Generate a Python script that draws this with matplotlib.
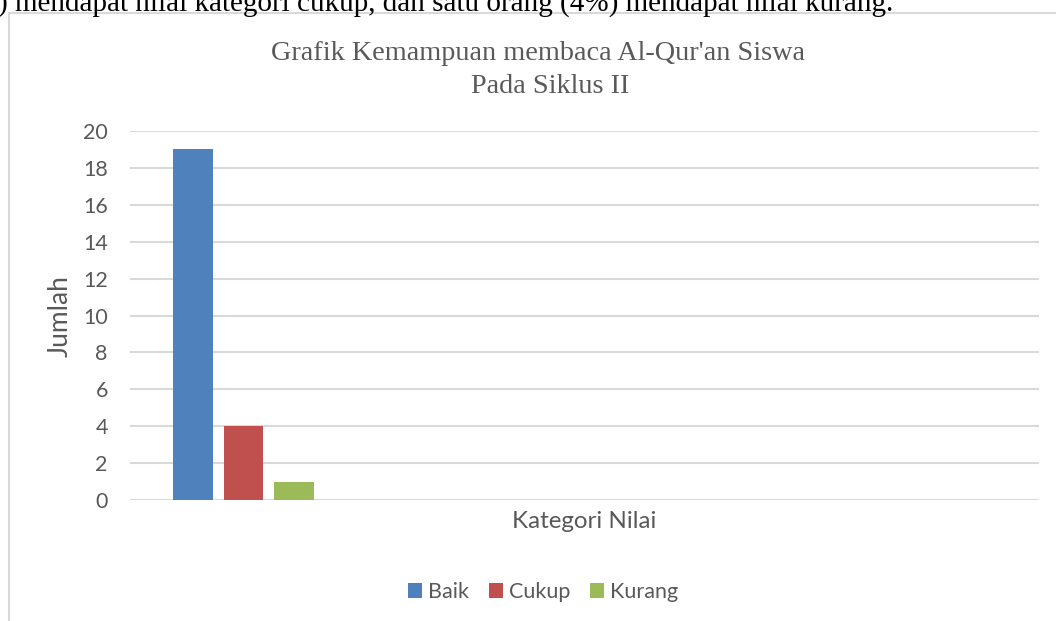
import matplotlib.pyplot as plt
from matplotlib.patches import Rectangle
import numpy as np

# data
kategori = ["Baik", "Cukup", "Kurang"]
jumlah = [19, 4, 1]
warna = ["#4F81BD", "#C0504D", "#9BBB59"]
yticks = [0, 2, 4, 6, 8, 10, 12, 14, 16, 18, 20]

teks_atas = ") mendapat nilai kategori cukup, dan satu orang (4%) mendapat nilai kurang."
judul1 = "Grafik Kemampuan membaca Al-Qur'an Siswa"
judul2 = "Pada Siklus II"

W, H = 1056, 621
fig = plt.figure(figsize=(W / 100, H / 100), dpi=100)
abu = "#595959"
sans = ["Lato", "DejaVu Sans"]

# chart area border (cropped screenshot)
fig.patches.append(Rectangle((9 / W, -0.1), 1.2, 1 - 13 / H + 0.1, transform=fig.transFigure,
                             fill=False, edgecolor="#d9d9d9", linewidth=1.5))

# surrounding document text, clipped at top
fig.text(-2 / W, 1 - 11 / H, teks_atas, family="Liberation Serif", fontsize=21,
         color="black", ha="left", va="baseline")

ax = fig.add_axes([130 / W, 1 - 500 / H, (1039 - 130) / W, (500 - 131) / H])
x = np.arange(len(kategori))
bars = ax.bar(x, jumlah, width=0.79, color=warna, zorder=3)
ax.set_xlim(-1.248, 16.75)
ax.set_ylim(0, 20)
ax.set_yticks(yticks)
ax.set_xticks([])
ax.grid(axis="y", color="#d9d9d9", linewidth=1.5, zorder=0)
for s in ax.spines.values():
    s.set_visible(False)
ax.tick_params(axis="y", length=0, pad=16, labelsize=15.5, labelcolor=abu)
for lbl in ax.get_yticklabels():
    lbl.set_family(sans)

fig.text(60 / W, 1 - 316 / H, "Jumlah", rotation=90, family=sans, fontsize=19,
         color=abu, ha="center", va="center")
fig.text(584 / W, 1 - 522 / H, "Kategori Nilai", family=sans, fontsize=17.4,
         color=abu, ha="center", va="center")
fig.text(538 / W, 1 - 60 / H, judul1, family="Liberation Serif", fontsize=20.3,
         color=abu, ha="center", va="baseline")
fig.text(550 / W, 1 - 93 / H, judul2, family="Liberation Serif", fontsize=20.3,
         color=abu, ha="center", va="baseline")

leg = fig.legend(bars, kategori, loc="center", bbox_to_anchor=(543 / W, 1 - 592 / H),
                 ncol=3, frameon=False, prop={"family": sans, "size": 15.5},
                 handlelength=0.65, handleheight=0.65, handletextpad=0.3, columnspacing=0.9)
for t in leg.get_texts():
    t.set_color(abu)

fig.savefig("out.png", dpi=100)
